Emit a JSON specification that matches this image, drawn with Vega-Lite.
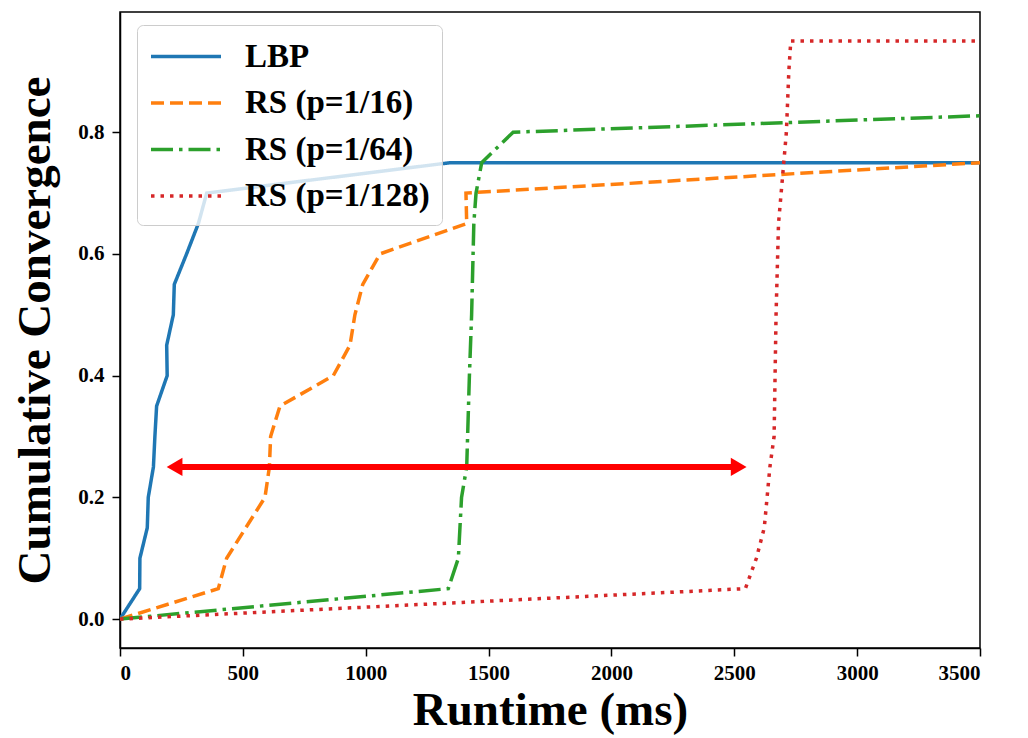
{
  "$schema": "https://vega.github.io/schema/vega-lite/v6.json",
  "width": 860,
  "height": 636,
  "autosize": "none",
  "padding": {"left": 120, "top": 12, "right": 48, "bottom": 90},
  "background": "white",
  "config": {
    "view": {"stroke": "black", "strokeWidth": 1.5},
    "font": "Liberation Serif",
    "axis": {
      "grid": false,
      "domainColor": "black",
      "domainWidth": 1.5,
      "tickColor": "black",
      "tickWidth": 1.5,
      "tickSize": 8,
      "labelFont": "Liberation Serif",
      "labelFontWeight": "bold",
      "labelFontSize": 21,
      "labelColor": "black",
      "titleFont": "Liberation Serif",
      "titleFontWeight": "bold",
      "titleFontSize": 47,
      "titleColor": "black"
    }
  },
  "datasets": {
    "curves": [
      {"series": "LBP", "pt": 0, "ms": 0, "conv": 0},
      {"series": "LBP", "pt": 1, "ms": 80, "conv": 0.05},
      {"series": "LBP", "pt": 2, "ms": 81, "conv": 0.1},
      {"series": "LBP", "pt": 3, "ms": 111, "conv": 0.15},
      {"series": "LBP", "pt": 4, "ms": 115, "conv": 0.2},
      {"series": "LBP", "pt": 5, "ms": 136, "conv": 0.25},
      {"series": "LBP", "pt": 6, "ms": 142, "conv": 0.3},
      {"series": "LBP", "pt": 7, "ms": 149, "conv": 0.35},
      {"series": "LBP", "pt": 8, "ms": 192, "conv": 0.4},
      {"series": "LBP", "pt": 9, "ms": 190, "conv": 0.45},
      {"series": "LBP", "pt": 10, "ms": 217, "conv": 0.5},
      {"series": "LBP", "pt": 11, "ms": 221, "conv": 0.55},
      {"series": "LBP", "pt": 12, "ms": 271, "conv": 0.6},
      {"series": "LBP", "pt": 13, "ms": 319, "conv": 0.65},
      {"series": "LBP", "pt": 14, "ms": 353, "conv": 0.7},
      {"series": "LBP", "pt": 15, "ms": 1345, "conv": 0.75},
      {"series": "LBP", "pt": 16, "ms": 3500, "conv": 0.75},
      {"series": "RS (p=1/16)", "pt": 0, "ms": 0, "conv": 0},
      {"series": "RS (p=1/16)", "pt": 1, "ms": 400, "conv": 0.05},
      {"series": "RS (p=1/16)", "pt": 2, "ms": 434, "conv": 0.1},
      {"series": "RS (p=1/16)", "pt": 3, "ms": 590, "conv": 0.2},
      {"series": "RS (p=1/16)", "pt": 4, "ms": 608, "conv": 0.25},
      {"series": "RS (p=1/16)", "pt": 5, "ms": 613, "conv": 0.3},
      {"series": "RS (p=1/16)", "pt": 6, "ms": 651, "conv": 0.35},
      {"series": "RS (p=1/16)", "pt": 7, "ms": 868, "conv": 0.4},
      {"series": "RS (p=1/16)", "pt": 8, "ms": 936, "conv": 0.45},
      {"series": "RS (p=1/16)", "pt": 9, "ms": 956, "conv": 0.5},
      {"series": "RS (p=1/16)", "pt": 10, "ms": 988, "conv": 0.55},
      {"series": "RS (p=1/16)", "pt": 11, "ms": 1058, "conv": 0.6},
      {"series": "RS (p=1/16)", "pt": 12, "ms": 1411, "conv": 0.65},
      {"series": "RS (p=1/16)", "pt": 13, "ms": 1408, "conv": 0.7},
      {"series": "RS (p=1/16)", "pt": 14, "ms": 3500, "conv": 0.75},
      {"series": "RS (p=1/64)", "pt": 0, "ms": 0, "conv": 0},
      {"series": "RS (p=1/64)", "pt": 1, "ms": 1336, "conv": 0.05},
      {"series": "RS (p=1/64)", "pt": 2, "ms": 1377, "conv": 0.1},
      {"series": "RS (p=1/64)", "pt": 3, "ms": 1390, "conv": 0.2},
      {"series": "RS (p=1/64)", "pt": 4, "ms": 1411, "conv": 0.25},
      {"series": "RS (p=1/64)", "pt": 5, "ms": 1422, "conv": 0.4},
      {"series": "RS (p=1/64)", "pt": 6, "ms": 1431, "conv": 0.5},
      {"series": "RS (p=1/64)", "pt": 7, "ms": 1440, "conv": 0.65},
      {"series": "RS (p=1/64)", "pt": 8, "ms": 1449, "conv": 0.7},
      {"series": "RS (p=1/64)", "pt": 9, "ms": 1472, "conv": 0.75},
      {"series": "RS (p=1/64)", "pt": 10, "ms": 1600, "conv": 0.8},
      {"series": "RS (p=1/64)", "pt": 11, "ms": 3500, "conv": 0.827},
      {"series": "RS (p=1/128)", "pt": 0, "ms": 0, "conv": 0},
      {"series": "RS (p=1/128)", "pt": 1, "ms": 2545, "conv": 0.05},
      {"series": "RS (p=1/128)", "pt": 2, "ms": 2590, "conv": 0.1},
      {"series": "RS (p=1/128)", "pt": 3, "ms": 2622, "conv": 0.15},
      {"series": "RS (p=1/128)", "pt": 4, "ms": 2645, "conv": 0.25},
      {"series": "RS (p=1/128)", "pt": 5, "ms": 2662, "conv": 0.3},
      {"series": "RS (p=1/128)", "pt": 6, "ms": 2670, "conv": 0.5},
      {"series": "RS (p=1/128)", "pt": 7, "ms": 2680, "conv": 0.65},
      {"series": "RS (p=1/128)", "pt": 8, "ms": 2695, "conv": 0.72},
      {"series": "RS (p=1/128)", "pt": 9, "ms": 2712, "conv": 0.8},
      {"series": "RS (p=1/128)", "pt": 10, "ms": 2722, "conv": 0.9},
      {"series": "RS (p=1/128)", "pt": 11, "ms": 2730, "conv": 0.95},
      {"series": "RS (p=1/128)", "pt": 12, "ms": 3500, "conv": 0.95}
    ],
    "arrow": [
      {"ms": 222, "conv": 0.25, "end": "left"},
      {"ms": 2518, "conv": 0.25, "end": "right"}
    ]
  },
  "layer": [
    {
      "data": {"name": "curves"},
      "mark": {"type": "line", "strokeWidth": 3.5, "clip": true},
      "encoding": {
        "x": {
          "field": "ms", "type": "quantitative",
          "scale": {"domain": [0, 3500], "nice": false, "zero": false},
          "axis": {"values": [0, 500, 1000, 1500, 2000, 2500, 3000, 3500], "format": "d", "title": "Runtime (ms)", "labelPadding": 6, "titlePadding": 4}
        },
        "y": {
          "field": "conv", "type": "quantitative",
          "scale": {"domain": [-0.0475, 0.9975], "nice": false, "zero": false},
          "axis": {"values": [0, 0.2, 0.4, 0.6, 0.8], "format": ".1f", "title": "Cumulative Convergence", "labelPadding": 8, "titlePadding": 18}
        },
        "color": {
          "field": "series", "type": "nominal",
          "scale": {
            "domain": ["LBP", "RS (p=1/16)", "RS (p=1/64)", "RS (p=1/128)"],
            "range": ["#1f77b4", "#ff7f0e", "#2ca02c", "#d62728"]
          },
          "legend": {
            "title": null,
            "orient": "none",
            "legendX": 17,
            "legendY": 13,
            "symbolType": "M-1,0H3",
            "symbolSize": 1225,
            "symbolStrokeWidth": 3.5,
            "labelFont": "Liberation Serif",
            "labelFontWeight": "bold",
            "labelFontSize": 33,
            "labelColor": "black",
            "labelOffset": 57,
            "labelLimit": 400,
            "rowPadding": 9.5,
            "padding": 12,
            "strokeColor": "#cccccc",
            "fillColor": "rgba(255,255,255,0.8)",
            "cornerRadius": 6
          }
        },
        "strokeDash": {
          "field": "series", "type": "nominal",
          "scale": {
            "domain": ["LBP", "RS (p=1/16)", "RS (p=1/64)", "RS (p=1/128)"],
            "range": [[1, 0], [13, 6], [22, 6, 3.5, 6], [3.5, 6]]
          },
          "legend": null
        },
        "order": {"field": "pt", "type": "quantitative"}
      }
    },
    {
      "data": {"name": "arrow"},
      "mark": {"type": "rule", "color": "#ff0000", "strokeWidth": 6},
      "encoding": {
        "x": {"aggregate": "min", "field": "ms", "type": "quantitative"},
        "x2": {"aggregate": "max", "field": "ms"},
        "y": {"aggregate": "min", "field": "conv", "type": "quantitative"}
      }
    },
    {
      "data": {"name": "arrow"},
      "mark": {"type": "point", "filled": true, "color": "#ff0000", "opacity": 1, "size": 330},
      "encoding": {
        "x": {"field": "ms", "type": "quantitative"},
        "y": {"field": "conv", "type": "quantitative"},
        "shape": {
          "field": "end", "type": "nominal",
          "scale": {"domain": ["left", "right"], "range": ["triangle-left", "triangle-right"]},
          "legend": null
        }
      }
    }
  ]
}
